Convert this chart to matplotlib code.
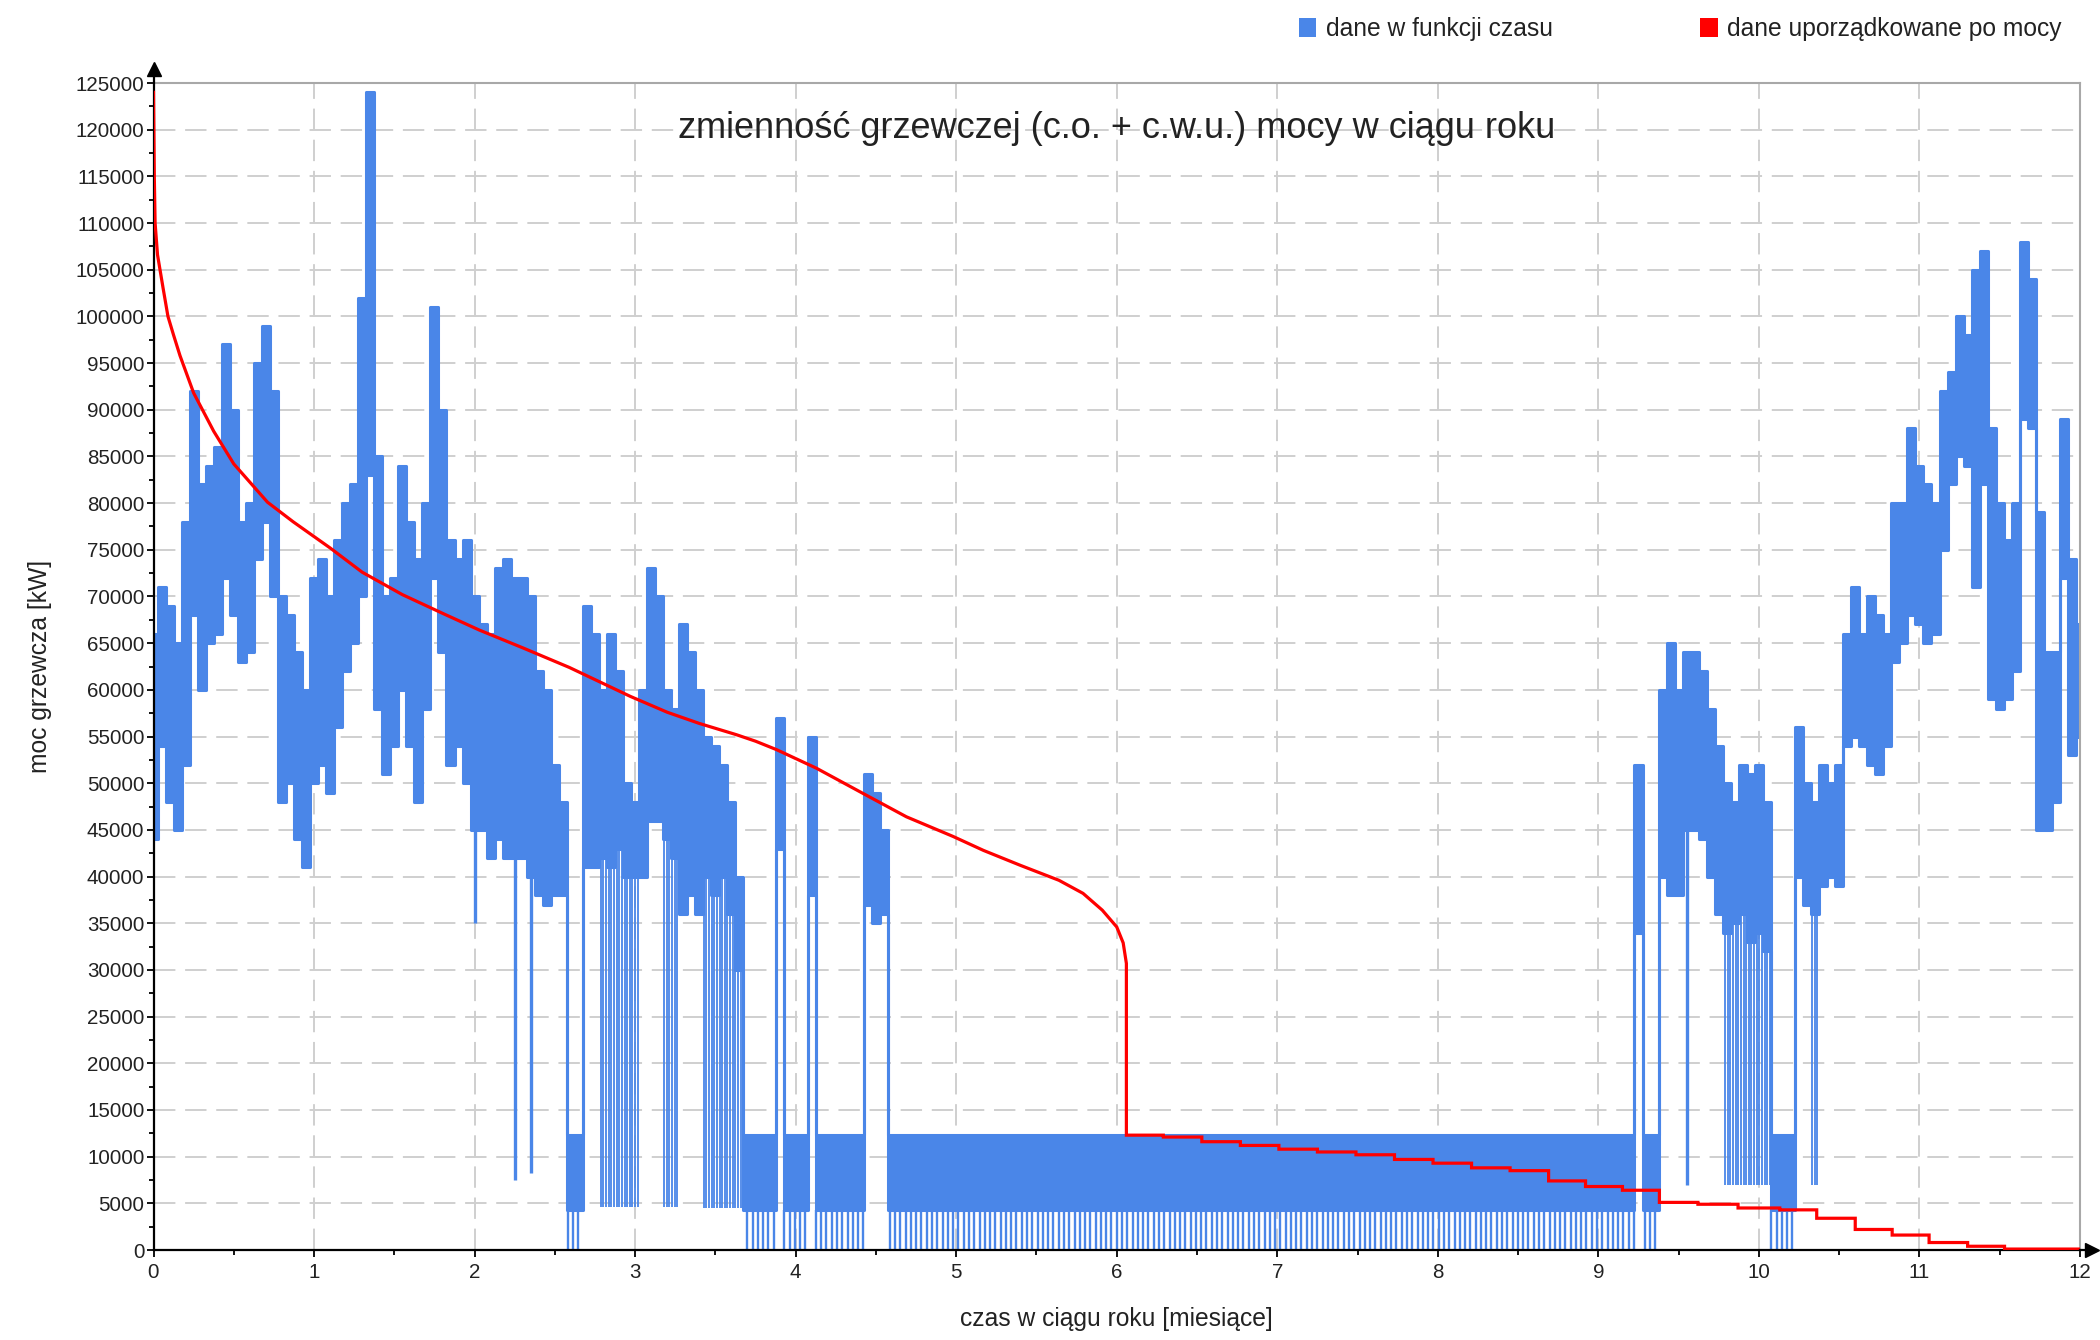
import numpy as np
import matplotlib
matplotlib.use("Agg")
import matplotlib.pyplot as plt
from matplotlib.patches import Patch
from matplotlib.ticker import MultipleLocator, StrMethodFormatter

# ---------------- data (values in thousands of kW) ----------------
# time step of the blue series samples: 0.05 month (t = 0.00 ... 12.00)
SAMPLE_STEP = 0.05

# upper edge of the hourly heating-power band ("dane w funkcji czasu")
moc_max_tys = [
    # month 0
    66, 71, 69, 65, 78, 92, 82, 84, 86, 97, 90, 78, 80, 95, 99, 92, 70, 68, 64, 60,
    # month 1
    72, 74, 70, 76, 80, 82, 102, 124, 85, 70, 72, 84, 78, 74, 80, 101, 90, 76, 74, 76,
    # month 2
    70, 67, 66, 73, 74, 72, 72, 70, 62, 60, 52, 48, 12.3, 12.3, 69, 66, 60, 66, 62, 50,
    # month 3
    48, 60, 73, 70, 60, 58, 67, 64, 60, 55, 54, 52, 48, 40, 12.3, 12.3, 12.3, 12.3, 57, 12.3,
    # month 4
    12.3, 12.3, 55, 12.3, 12.3, 12.3, 12.3, 12.3, 12.3, 51, 49, 45, 12.3, 12.3, 12.3, 12.3, 12.3, 12.3, 12.3, 12.3,
    # month 5
    12.3, 12.3, 12.3, 12.3, 12.3, 12.3, 12.3, 12.3, 12.3, 12.3, 12.3, 12.3, 12.3, 12.3, 12.3, 12.3, 12.3, 12.3, 12.3, 12.3,
    # month 6
    12.3, 12.3, 12.3, 12.3, 12.3, 12.3, 12.3, 12.3, 12.3, 12.3, 12.3, 12.3, 12.3, 12.3, 12.3, 12.3, 12.3, 12.3, 12.3, 12.3,
    # month 7
    12.3, 12.3, 12.3, 12.3, 12.3, 12.3, 12.3, 12.3, 12.3, 12.3, 12.3, 12.3, 12.3, 12.3, 12.3, 12.3, 12.3, 12.3, 12.3, 12.3,
    # month 8
    12.3, 12.3, 12.3, 12.3, 12.3, 12.3, 12.3, 12.3, 12.3, 12.3, 12.3, 12.3, 12.3, 12.3, 12.3, 12.3, 12.3, 12.3, 12.3, 12.3,
    # month 9
    12.3, 12.3, 12.3, 12.3, 12.3, 52, 12.3, 12.3, 60, 65, 60, 64, 64, 62, 58, 54, 50, 48, 52, 51,
    # month 10
    52, 48, 12.3, 12.3, 12.3, 56, 50, 48, 52, 50, 52, 66, 71, 66, 70, 68, 66, 80, 80, 88,
    # month 11 (+ 12.00)
    84, 82, 80, 92, 94, 100, 98, 105, 107, 88, 80, 76, 80, 108, 104, 79, 64, 64, 89, 74, 67,
]

# lower edge of the solid part of the band
moc_min_tys = [
    # month 0
    44, 54, 48, 45, 52, 68, 60, 65, 66, 72, 68, 63, 64, 74, 78, 70, 48, 50, 44, 41,
    # month 1
    50, 52, 49, 56, 62, 65, 70, 83, 58, 51, 54, 60, 54, 48, 58, 72, 64, 52, 54, 50,
    # month 2
    45, 45, 42, 44, 42, 42, 42, 40, 38, 37, 38, 38, 4.3, 4.3, 41, 41, 42, 41, 43, 40,
    # month 3
    40, 40, 46, 46, 44, 42, 36, 38, 36, 40, 38, 40, 36, 30, 4.3, 4.3, 4.3, 4.3, 43, 4.3,
    # month 4
    4.3, 4.3, 38, 4.3, 4.3, 4.3, 4.3, 4.3, 4.3, 37, 35, 36, 4.3, 4.3, 4.3, 4.3, 4.3, 4.3, 4.3, 4.3,
    # month 5
    4.3, 4.3, 4.3, 4.3, 4.3, 4.3, 4.3, 4.3, 4.3, 4.3, 4.3, 4.3, 4.3, 4.3, 4.3, 4.3, 4.3, 4.3, 4.3, 4.3,
    # month 6
    4.3, 4.3, 4.3, 4.3, 4.3, 4.3, 4.3, 4.3, 4.3, 4.3, 4.3, 4.3, 4.3, 4.3, 4.3, 4.3, 4.3, 4.3, 4.3, 4.3,
    # month 7
    4.3, 4.3, 4.3, 4.3, 4.3, 4.3, 4.3, 4.3, 4.3, 4.3, 4.3, 4.3, 4.3, 4.3, 4.3, 4.3, 4.3, 4.3, 4.3, 4.3,
    # month 8
    4.3, 4.3, 4.3, 4.3, 4.3, 4.3, 4.3, 4.3, 4.3, 4.3, 4.3, 4.3, 4.3, 4.3, 4.3, 4.3, 4.3, 4.3, 4.3, 4.3,
    # month 9
    4.3, 4.3, 4.3, 4.3, 4.3, 34, 4.3, 4.3, 40, 38, 38, 45, 45, 44, 40, 36, 34, 35, 36, 33,
    # month 10
    34, 32, 4.3, 4.3, 4.3, 40, 37, 36, 39, 40, 39, 54, 55, 54, 52, 51, 54, 63, 65, 68,
    # month 11 (+ 12.00)
    67, 65, 66, 75, 82, 85, 84, 71, 82, 59, 58, 59, 62, 89, 88, 45, 45, 48, 72, 53, 55,
]

# samples where the daily minima drop well below the band (month, thousand kW)
pasy_t = [2.80, 2.85, 2.90, 2.95, 3.00, 3.20, 3.25, 3.45, 3.50, 3.55, 3.60, 3.65,
          9.80, 9.85, 9.90, 9.95, 10.00, 10.05, 10.35]
pasy_dno_tys = [4.6, 4.6, 4.6, 4.6, 4.6, 4.6, 4.6, 4.5, 4.5, 4.5, 4.5, 4.5,
                7, 7, 7, 7, 7, 7, 7]

# single deep drops of the hourly series (month, thousand kW)
spadki_t = [2.00, 2.25, 2.35, 9.55]
spadki_tys = [35, 7.5, 8.2, 7]

# hot-water-only (summer) level and its nightly minimum
cwu_max_tys = 12.3
cwu_noc_tys = 0.0

# sorted power ("dane uporządkowane po mocy"): smooth part
upor_t = [0.0, 0.005, 0.01, 0.025, 0.06, 0.09, 0.125, 0.165, 0.25, 0.375, 0.5, 0.71,
          0.87, 1.10, 1.30, 1.55, 1.80, 2.03, 2.30, 2.59, 2.97, 3.20, 3.40, 3.63,
          3.75, 3.88, 4.13, 4.42, 4.69, 4.98, 5.17, 5.40, 5.64, 5.79, 5.91, 6.00,
          6.04, 6.06]
upor_tys = [124, 115, 110, 106.6, 103, 100, 98.0, 95.8, 91.8, 87.7, 84.2, 80.1,
            78.0, 75.2, 72.6, 70.2, 68.2, 66.4, 64.5, 62.4, 59.3, 57.6, 56.4, 55.2,
            54.5, 53.6, 51.6, 48.9, 46.4, 44.3, 42.8, 41.2, 39.6, 38.2, 36.4, 34.6,
            32.9, 30.7]
# sorted power: stepped part (start of each step, level)
schodki_t = [6.06, 6.29, 6.53, 6.77, 7.01, 7.25, 7.49, 7.73, 7.97, 8.21, 8.45, 8.69,
             8.92, 9.15, 9.38, 9.62, 9.87, 10.13, 10.36, 10.60, 10.83, 11.06, 11.30, 11.53]
schodki_tys = [12.3, 12.1, 11.6, 11.2, 10.8, 10.5, 10.2, 9.7, 9.3, 8.8, 8.5, 7.4,
               6.8, 6.4, 5.1, 4.9, 4.5, 4.3, 3.4, 2.2, 1.6, 0.8, 0.4, 0.1]
KONIEC_ROKU = 12.0

miesiace_ticks = [0, 1, 2, 3, 4, 5, 6, 7, 8, 9, 10, 11, 12]
moc_ticks = list(range(0, 125001, 5000))

title = "zmienność grzewczej (c.o. + c.w.u.) mocy w ciągu roku"
xlabel = "czas w ciągu roku [miesiące]"
ylabel = "moc grzewcza [kW]"
label_blue = "dane w funkcji czasu"
label_red = "dane uporządkowane po mocy"

BLUE = "#4A86E8"
RED = "#FF0000"
TXT = "#222222"

# ---------------- figure ----------------
plt.rcParams["font.family"] = ["Liberation Sans", "DejaVu Sans"]

W, H = 2100, 1340
fig = plt.figure(figsize=(W / 100, H / 100), dpi=100)
ax_l, ax_r, ax_t, ax_b = 153.5, 2080, 83, 1250
ax = fig.add_axes([ax_l / W, 1 - ax_b / H, (ax_r - ax_l) / W, (ax_b - ax_t) / H])
ax_wpx, ax_hpx = ax_r - ax_l, ax_b - ax_t

hi = np.array(moc_max_tys) * 1000.0
lo = np.array(moc_min_tys) * 1000.0
t = np.round(np.arange(len(hi)) * SAMPLE_STEP, 2)

# blue band
ax.fill_between(t, lo, hi, step="mid", color=BLUE, lw=0, zorder=2)
ax.step(t, hi, where="mid", color=BLUE, lw=2.2, zorder=2)
ax.step(t, lo, where="mid", color=BLUE, lw=2.2, zorder=2)

# nightly drops during hot-water-only days (one per day)
days = (np.arange(365) + 0.5) * 12.0 / 365.0
idx = np.clip(np.round(days / SAMPLE_STEP).astype(int), 0, len(t) - 1)
summer = np.isclose(hi[idx], cwu_max_tys * 1000.0)
ax.vlines(days[summer], cwu_noc_tys * 1000.0, lo[idx][summer], color=BLUE, lw=1.7, zorder=2)

# striped winter samples (two drops per day)
halfdays = (np.arange(730) + 0.5) * 12.0 / 730.0
hidx = np.clip(np.round(halfdays / SAMPLE_STEP).astype(int), 0, len(t) - 1)
pasy_map = {round(p, 2): d * 1000.0 for p, d in zip(pasy_t, pasy_dno_tys)}
sx, sy0, sy1 = [], [], []
for dpos, i in zip(halfdays, hidx):
    key = round(t[i], 2)
    if key in pasy_map:
        sx.append(dpos)
        sy0.append(pasy_map[key])
        sy1.append(lo[i])
ax.vlines(sx, sy0, sy1, color=BLUE, lw=1.3, zorder=2)

# isolated deep drops
d_idx = np.clip(np.round(np.array(spadki_t) / SAMPLE_STEP).astype(int), 0, len(t) - 1)
ax.vlines(spadki_t, np.array(spadki_tys) * 1000.0, lo[d_idx], color=BLUE, lw=2.4, zorder=2)

# red sorted curve
rx = list(upor_t)
ry = [v * 1000.0 for v in upor_tys]
ends = schodki_t[1:] + [KONIEC_ROKU]
for s, e, v in zip(schodki_t, ends, schodki_tys):
    rx += [s, e]
    ry += [v * 1000.0, v * 1000.0]
ax.plot(rx, ry, color=RED, lw=2.3, zorder=3, solid_joinstyle="miter")

# axes limits / ticks
ax.set_xlim(0, 12)
ax.set_ylim(0, 125000)
ax.set_xticks(miesiace_ticks)
ax.set_yticks(moc_ticks)
ax.xaxis.set_minor_locator(MultipleLocator(0.5))
ax.yaxis.set_minor_locator(MultipleLocator(2500))
ax.yaxis.set_major_formatter(StrMethodFormatter("{x:.0f}"))
ax.tick_params(axis="both", which="major", direction="out", length=5, width=1.3,
               color="black", labelsize=14.8, labelcolor=TXT)
ax.tick_params(axis="both", which="minor", direction="out", length=3.5, width=1.3, color="black")
ax.tick_params(axis="y", which="major", pad=1.5)
ax.tick_params(axis="x", which="major", pad=4)

ax.set_axisbelow(True)
ax.grid(True, which="major", color="#cfcfcf", lw=1.4, ls=(0, (11, 5)))

for s in ("left", "bottom"):
    ax.spines[s].set_color("black")
    ax.spines[s].set_linewidth(1.6)
for s in ("top", "right"):
    ax.spines[s].set_color("#a8a8a8")
    ax.spines[s].set_linewidth(1.5)

# axis arrows
ax.plot([0, 0], [1, 1 + 10 / ax_hpx], transform=ax.transAxes, color="black",
        lw=1.6, clip_on=False, zorder=5)
ax.plot([0], [1 + 14 / ax_hpx], marker="^", ms=9.5, color="black",
        transform=ax.transAxes, clip_on=False, zorder=5)
ax.plot([1, 1 + 6 / ax_wpx], [0, 0], transform=ax.transAxes, color="black",
        lw=1.6, clip_on=False, zorder=5)
ax.plot([1 + 12 / ax_wpx], [0], marker=">", ms=9.5, color="black",
        transform=ax.transAxes, clip_on=False, zorder=5)

# title inside plot
ax.text(0.5, 1 - (128 - ax_t) / ax_hpx, title, transform=ax.transAxes,
        ha="center", va="center", fontsize=26, color=TXT, zorder=4)

# axis labels
ax.set_xlabel(xlabel, fontsize=17.7, color=TXT)
ax.set_ylabel(ylabel, fontsize=17.7, color=TXT)
ax.xaxis.set_label_coords(0.5, -(1319 - ax_b) / ax_hpx)
ax.xaxis.label.set_va("center")
ax.yaxis.set_label_coords(-(ax_l - 40) / ax_wpx, 0.5)
ax.yaxis.label.set_va("center")

# legend
handles = [Patch(facecolor=BLUE, edgecolor="none", label=label_blue),
           Patch(facecolor=RED, edgecolor="none", label=label_red)]
fig.legend(handles=handles, loc="upper right", bbox_to_anchor=(2062 / W, 1 - 17 / H),
           ncol=2, frameon=False, fontsize=17.7, handlelength=0.7, handleheight=0.8,
           handletextpad=0.4, columnspacing=6.0, borderpad=0, borderaxespad=0,
           labelcolor=TXT)

fig.savefig("out.png", dpi=100)
